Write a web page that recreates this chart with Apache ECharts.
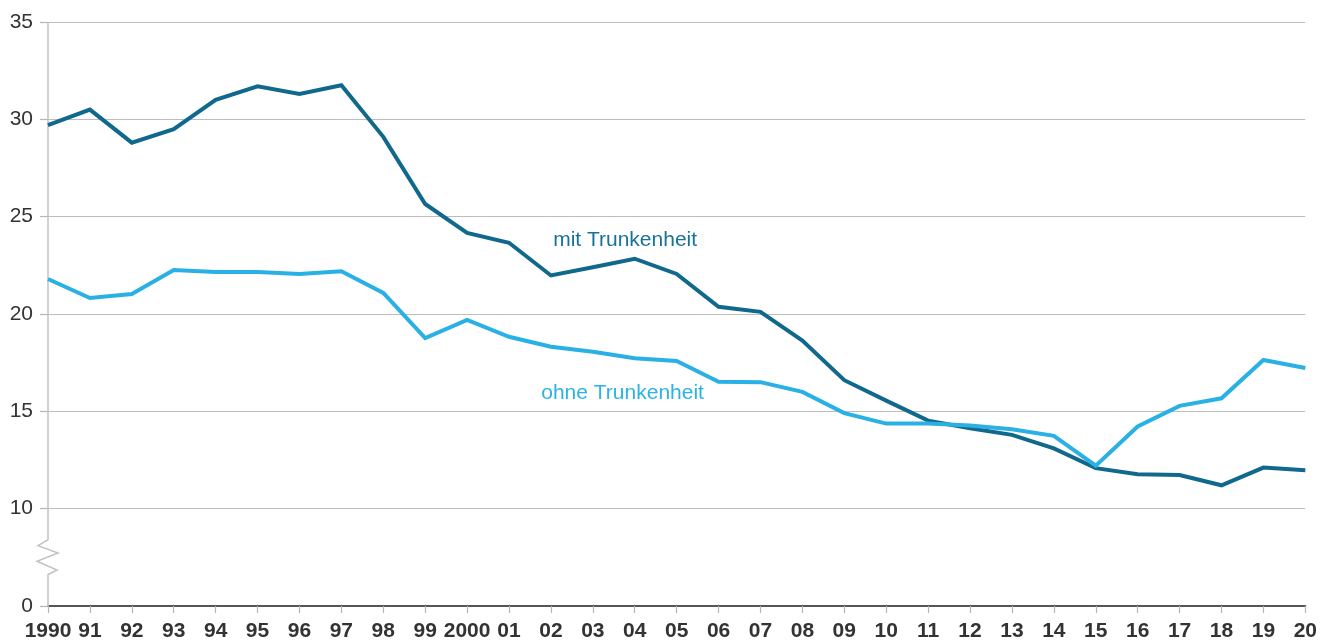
<!DOCTYPE html>
<html>
<head>
<meta charset="utf-8">
<script src="https://cdn.jsdelivr.net/npm/echarts@6/dist/echarts.min.js"></script>
<style>
html,body{margin:0;padding:0;background:#fff;}
#chart{width:1320px;height:643px;}
</style>
</head>
<body>
<div id="chart"></div>
<script>
var years = ['1990','91','92','93','94','95','96','97','98','99','2000','01','02','03','04','05','06','07','08','09','10','11','12','13','14','15','16','17','18','19','20'];
var mitTrunkenheit = [29.7,30.5,28.8,29.5,31.0,31.7,31.3,31.75,29.1,25.65,24.17,23.66,21.98,22.4,22.84,22.06,20.37,20.11,18.64,16.6,15.55,14.52,14.13,13.79,13.1,12.08,11.77,11.73,11.2,12.11,11.97];
var ohneTrunkenheit = [21.8,20.82,21.03,22.26,22.16,22.16,22.06,22.2,21.08,18.76,19.7,18.83,18.32,18.06,17.73,17.59,16.52,16.5,16.0,14.91,14.37,14.37,14.27,14.08,13.74,12.21,14.22,15.28,15.67,17.64,17.23];
var yTickLabels = {5:'0',10:'10',15:'15',20:'20',25:'25',30:'30',35:'35'};
var seriesNames = ['mit Trunkenheit','ohne Trunkenheit'];

var darkColor = '#10698c';
var lightColor = '#29b0e5';
var font = '"Liberation Sans", Arial, Helvetica, sans-serif';

var chart = echarts.init(document.getElementById('chart'), null, {renderer:'canvas'});
chart.setOption({
  animation:false,
  backgroundColor:'#fff',
  grid:{left:48,right:12.5,top:22,bottom:37,containLabel:false},
  xAxis:{
    type:'category',
    data:years,
    boundaryGap:false,
    axisLine:{show:true,lineStyle:{color:'#555',width:2}},
    axisTick:{show:true,alignWithLabel:true,length:7,lineStyle:{color:'#b5b5b5',width:1.2}},
    axisLabel:{interval:0,margin:15,fontFamily:font,fontSize:21,fontWeight:'bold',color:'#333'},
    splitLine:{show:false}
  },
  yAxis:{
    type:'value',
    min:5,max:35,interval:5,
    axisLine:{show:false},
    axisTick:{show:true,length:8,lineStyle:{color:'#b5b5b5',width:1.2}},
    axisLabel:{margin:15,fontFamily:font,fontSize:21,color:'#333',formatter:function(v){return yTickLabels[v]!==undefined?yTickLabels[v]:'';}},
    splitLine:{show:true,lineStyle:{color:'#bdbdbd',width:1.2}}
  },
  series:[
    {name:seriesNames[0],type:'line',data:mitTrunkenheit,showSymbol:false,symbol:'none',lineStyle:{color:darkColor,width:4,join:'miter'},z:3},
    {name:seriesNames[1],type:'line',data:ohneTrunkenheit,showSymbol:false,symbol:'none',lineStyle:{color:lightColor,width:4,join:'miter'},z:4}
  ]
});

// decorations: broken y-axis line and in-chart series labels
function px(xi, v){ return chart.convertToPixel({gridIndex:0},[xi, v]); }
function pxFrac(xf, v){
  var i0 = Math.floor(xf), f = xf - i0;
  var a = px(i0, v), b = px(i0+1, v);
  return [a[0]+(b[0]-a[0])*f, a[1]];
}
var ax = px(0,35)[0];
var yTop = px(0,35)[1], yBot = px(0,5)[1];
var b1 = px(0,8.4)[1], b2=px(0,8.1)[1], b3=px(0,7.72)[1], b4=px(0,7.3)[1], b5=px(0,6.85)[1], b6=px(0,6.62)[1];
var l1 = pxFrac(13.77, 23.77);
var l2 = pxFrac(13.71, 15.95);
chart.setOption({
  graphic:[
    {type:'polyline',silent:true,z:1,shape:{points:[[ax,yTop],[ax,b1],[ax-10,b2],[ax+10,b3],[ax-11,b4],[ax+9,b5],[ax,b6],[ax,yBot]]},style:{stroke:'#c2c2c2',lineWidth:1.5,fill:null}},
    {type:'text',silent:true,z:10,x:l1[0],y:l1[1],style:{text:seriesNames[0],fill:'#17729a',font:'21px '+font,align:'center',verticalAlign:'middle'}},
    {type:'text',silent:true,z:10,x:l2[0],y:l2[1],style:{text:seriesNames[1],fill:'#2cb2e6',font:'21px '+font,align:'center',verticalAlign:'middle'}}
  ]
});
</script>
</body>
</html>
